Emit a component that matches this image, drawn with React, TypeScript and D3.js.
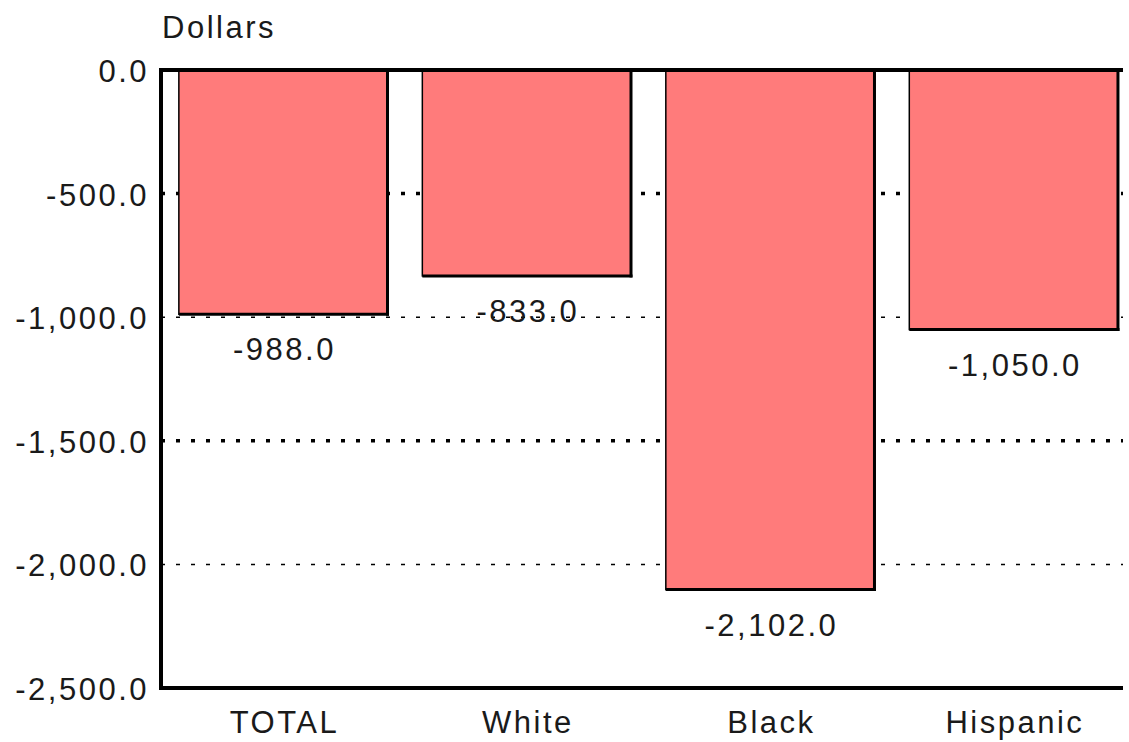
import * as d3 from "d3";

const categories = ["TOTAL", "White", "Black", "Hispanic"];
const values = [-988.0, -833.0, -2102.0, -1050.0];
const yTicks = [0, -500, -1000, -1500, -2000, -2500];
const boldGrid = [-500, -1500];
const thinGrid = [-1000, -2000];

const W = 1129;
const H = 742;
const FONT = "'Liberation Sans', Arial, Helvetica, sans-serif";
const FS = 31;
const LS = 2.5;

export default function App() {
  const left = 161;
  const right = 1123;
  const top = 70;
  const bottom = 688;

  const x = d3
    .scaleBand<string>()
    .domain(categories)
    .range([left, right])
    .paddingInner(0.143)
    .paddingOuter(0.047)
    .align(0.78);

  const y = d3.scaleLinear().domain([-2500, 0]).range([bottom, top]);

  const fmt = d3.format(",.1f");
  const label = (v: number) => fmt(v).replace("−", "-");

  const txt = {
    fontFamily: FONT,
    fontSize: FS,
    letterSpacing: LS,
    fill: "#1a1a1a",
  };

  return (
    <div style={{ position: "absolute", left: 0, top: 0 }}>
      <svg width={W} height={H} style={{ display: "block", background: "#fff" }}>
        {/* gridlines, behind the bars */}
        {boldGrid.map((t) => (
          <line
            key={"b" + t}
            x1={left}
            x2={right}
            y1={y(t)}
            y2={y(t)}
            stroke="#000"
            strokeWidth={3.5}
            strokeDasharray="4 11"
          />
        ))}
        {thinGrid.map((t) => (
          <line
            key={"t" + t}
            x1={left}
            x2={right}
            y1={y(t)}
            y2={y(t)}
            stroke="#000"
            strokeWidth={1.5}
            strokeDasharray="4 11"
          />
        ))}

        {/* bars */}
        {categories.map((c, i) => {
          const x0 = x(c) || 0;
          const bw = x.bandwidth();
          const yb = y(values[i]);
          return (
            <g key={c}>
              <rect x={x0} y={y(0)} width={bw} height={yb - y(0)} fill="#ff7b7b" stroke="#000" strokeWidth={1.5} />
              <line x1={x0 + bw} x2={x0 + bw} y1={y(0)} y2={yb + 1.5} stroke="#000" strokeWidth={3} />
              <line x1={x0} x2={x0 + bw + 1.5} y1={yb} y2={yb} stroke="#000" strokeWidth={3} />
              <text x={x0 + bw / 2 + LS / 2} y={yb + 46} textAnchor="middle" {...txt}>
                {label(values[i])}
              </text>
            </g>
          );
        })}

        {/* axes */}
        <line x1={left} x2={right} y1={y(0)} y2={y(0)} stroke="#000" strokeWidth={4} />
        <line x1={left} x2={left} y1={top - 2} y2={bottom + 2} stroke="#000" strokeWidth={4} />
        <line x1={left - 2} x2={right} y1={bottom} y2={bottom} stroke="#000" strokeWidth={4} />

        {/* y tick labels */}
        {yTicks.map((t) => (
          <text key={t} x={149} y={y(t) + 12} textAnchor="end" {...txt}>
            {label(t)}
          </text>
        ))}

        {/* x category labels */}
        {categories.map((c) => (
          <text key={c} x={(x(c) || 0) + x.bandwidth() / 2 + LS / 2} y={733} textAnchor="middle" {...txt}>
            {c}
          </text>
        ))}

        <text x={162} y={38} {...txt}>
          Dollars
        </text>
      </svg>
    </div>
  );
}
